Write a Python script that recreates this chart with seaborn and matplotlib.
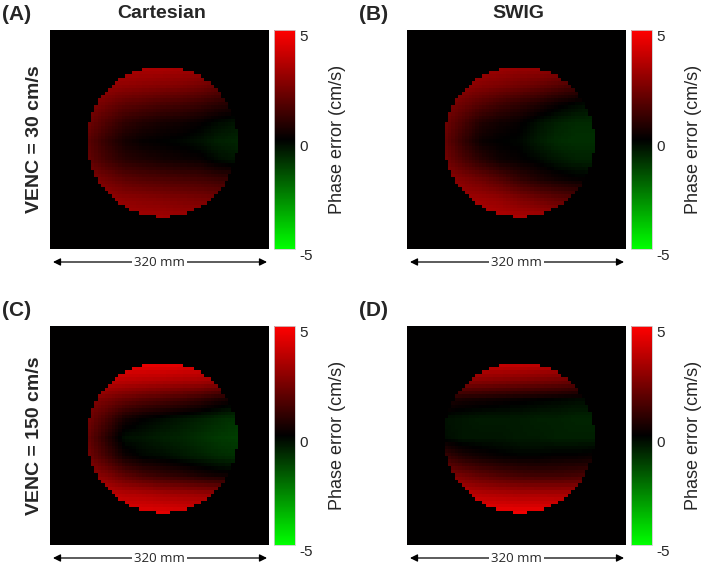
import numpy as np
import matplotlib
matplotlib.use("Agg")
import matplotlib.pyplot as plt
from matplotlib.colors import LinearSegmentedColormap
from matplotlib.transforms import ScaledTranslation
import seaborn as sns

# Phase error (cm/s) on a coarse 9x9 grid spanning the
# phantom's bounding box (rows top -> bottom, columns left -> right)
cartesian_30 = [
    [3.4, 3.4, 3.4, 3.4, 3.4, 3.3, 3.2, 3.1, 3.0],
    [3.0, 2.9, 2.8, 2.7, 2.6, 2.5, 2.3, 2.0, 1.8],
    [2.6, 2.2, 1.8, 1.6, 1.4, 1.3, 1.1, 0.8, 0.6],
    [2.2, 1.5, 0.9, 0.6, 0.4, 0.3, 0.1, -0.2, -0.4],
    [1.8, 1.0, 0.4, 0.1, 0.0, -0.1, -0.3, -0.6, -0.7],
    [2.0, 1.3, 0.8, 0.6, 0.4, 0.3, 0.2, -0.2, -0.4],
    [2.6, 2.2, 1.8, 1.6, 1.5, 1.4, 1.3, 1.1, 1.0],
    [3.0, 2.9, 2.7, 2.6, 2.5, 2.4, 2.3, 2.2, 2.0],
    [3.2, 3.2, 3.2, 3.1, 3.1, 3.0, 3.0, 2.9, 2.8],
]
swig_30 = [
    [3.2, 3.2, 3.2, 3.1, 3.0, 3.0, 2.9, 2.8, 2.6],
    [2.9, 2.8, 2.6, 2.4, 2.2, 2.0, 1.7, 1.4, 1.2],
    [2.5, 2.1, 1.6, 1.2, 0.9, 0.6, 0.2, -0.1, -0.3],
    [2.2, 1.4, 0.6, 0.3, 0.1, -0.3, -0.6, -0.8, -0.8],
    [2.0, 1.0, 0.2, 0.0, -0.1, -0.5, -0.8, -0.9, -0.9],
    [2.3, 1.5, 0.8, 0.3, 0.1, -0.1, -0.4, -0.6, -0.6],
    [2.8, 2.5, 2.1, 1.6, 1.0, 0.6, 0.3, 0.1, 0.0],
    [3.2, 3.1, 3.0, 2.8, 2.4, 2.1, 1.8, 1.6, 1.5],
    [3.5, 3.5, 3.5, 3.4, 3.3, 3.2, 3.0, 2.9, 2.8],
]
cartesian_150 = [
    [4.7, 4.7, 4.7, 4.7, 4.7, 4.6, 4.5, 4.4, 4.3],
    [3.8, 3.7, 3.6, 3.5, 3.4, 3.3, 3.2, 3.0, 2.8],
    [2.6, 2.3, 1.9, 1.6, 1.4, 1.2, 0.9, 0.5, 0.2],
    [2.3, 1.4, 0.4, 0.0, -0.2, -0.4, -0.6, -0.8, -1.0],
    [2.0, 0.8, -0.3, -0.4, -0.6, -0.7, -0.9, -1.1, -1.2],
    [2.3, 1.3, 0.3, -0.1, -0.2, -0.4, -0.6, -0.8, -0.9],
    [2.9, 2.5, 1.8, 1.3, 1.0, 0.8, 0.5, 0.3, 0.2],
    [3.8, 3.7, 3.5, 3.4, 3.2, 3.1, 3.0, 2.9, 2.8],
    [4.4, 4.4, 4.4, 4.4, 4.4, 4.3, 4.2, 4.2, 4.1],
]
swig_150 = [
    [4.0, 4.0, 4.0, 4.0, 4.0, 3.9, 3.8, 3.7, 3.6],
    [2.8, 2.7, 2.6, 2.5, 2.4, 2.3, 2.2, 2.0, 1.8],
    [0.6, 0.4, 0.3, 0.2, 0.1, 0.0, -0.1, -0.2, -0.2],
    [-0.3, -0.4, -0.5, -0.5, -0.5, -0.6, -0.6, -0.7, -0.7],
    [-0.2, -0.4, -0.4, -0.4, -0.5, -0.5, -0.6, -0.6, -0.6],
    [1.2, 0.6, 0.3, 0.1, 0.0, 0.0, 0.1, 0.1, 0.2],
    [2.6, 2.2, 1.8, 1.5, 1.3, 1.2, 1.2, 1.3, 1.4],
    [3.8, 3.7, 3.5, 3.4, 3.3, 3.3, 3.3, 3.3, 3.3],
    [4.7, 4.7, 4.7, 4.7, 4.7, 4.7, 4.6, 4.6, 4.5],
]

panel_labels = ["(A)", "(B)", "(C)", "(D)"]
column_titles = ["Cartesian", "SWIG"]
row_titles = ["VENC = 30 cm/s", "VENC = 150 cm/s"]
cbar_ticks = [5, 0, -5]

# phantom geometry on the 64x64 acquisition matrix
matrix_size = 64
phantom_center = (32.8, 32.6)   # (x, y) in pixels
phantom_radius = 22.0


def phase_map(coarse):
    """Put the coarse readings onto the matrix and blank outside the phantom."""
    coarse = np.asarray(coarse, dtype=float)
    n = coarse.shape[0] - 1
    cx, cy = phantom_center
    pix = np.arange(matrix_size) + 0.5
    tx = np.clip((pix - (cx - phantom_radius)) / (2 * phantom_radius) * n, 0, n)
    ty = np.clip((pix - (cy - phantom_radius)) / (2 * phantom_radius) * n, 0, n)
    grid = np.arange(n + 1)
    by_col = np.array([np.interp(tx, grid, row) for row in coarse])
    field = np.array([np.interp(ty, grid, by_col[:, j]) for j in range(matrix_size)]).T
    xx, yy = np.meshgrid(pix, pix)
    inside = (xx - cx) ** 2 + (yy - cy) ** 2 <= phantom_radius ** 2
    return np.where(inside, field, 0.0)


sns.set_style("white")
plt.rcParams["font.family"] = ["Liberation Sans", "DejaVu Sans"]

cmap = LinearSegmentedColormap.from_list("green_black_red", ["#00ff00", "#000000", "#ff0000"])

fig = plt.figure(figsize=(7.09, 5.64), dpi=100)
W, H = 709, 564

maps = [cartesian_30, swig_30, cartesian_150, swig_150]
img_left = [50, 407]
img_top = [30, 326]
size = 219

for k, data in enumerate(maps):
    r, c = divmod(k, 2)
    x0, y0 = img_left[c], img_top[r]
    ax = fig.add_axes([x0 / W, 1 - (y0 + size) / H, size / W, size / H])
    cax = fig.add_axes([(x0 + 224) / W, 1 - (y0 + size) / H, 21 / W, size / H])

    sns.heatmap(phase_map(data), ax=ax, cbar_ax=cax, cmap=cmap, vmin=-5, vmax=5,
                xticklabels=False, yticklabels=False, rasterized=True)
    ax.set_aspect("auto")
    for sp in ax.spines.values():
        sp.set_visible(False)

    cb = ax.collections[0].colorbar
    cb.set_ticks(cbar_ticks)
    cb.set_ticklabels([str(t) for t in cbar_ticks])
    cb.outline.set_visible(True)
    cb.outline.set_edgecolor("#cccccc")
    cb.outline.set_linewidth(0.6)
    cax.tick_params(length=0, pad=3, labelsize=11)
    for lab in cax.get_yticklabels():
        lab.set_transform(lab.get_transform() + ScaledTranslation(0, -4 / 72, fig.dpi_scale_trans))
    cax.text(3.0, 0.5, "Phase error (cm/s)", transform=cax.transAxes, rotation=90,
             ha="center", va="center", fontsize=13)

    # panel letter
    fig.text((x0 - 48) / W, 1 - (y0 - 16) / H, panel_labels[k], fontsize=15,
             fontweight="bold", ha="left", va="center")

    # field-of-view arrow
    ya = 1 - (y0 + size + 13) / H
    ax.annotate("", xy=((x0 + 3) / W, ya), xytext=((x0 + 217) / W, ya),
                xycoords="figure fraction", textcoords="figure fraction",
                arrowprops=dict(arrowstyle="<|-|>", color="black", lw=0.9,
                                mutation_scale=11, shrinkA=0, shrinkB=0))
    fig.text((x0 + size / 2) / W, ya, "320 mm", fontsize=9.5, family=["Open Sans", "DejaVu Sans"],
             ha="center", va="center",
             bbox=dict(facecolor="white", edgecolor="none", pad=1.5))

    if r == 0:
        fig.text((x0 + size / 2 + 2) / W, 1 - 13 / H, column_titles[c], fontsize=14,
                 fontweight="bold", ha="center", va="center")
    if c == 0:
        fig.text(35 / W, 1 - (y0 + size / 2) / H, row_titles[r], fontsize=14,
                 fontweight="bold", rotation=90, ha="center", va="center")

fig.savefig("out.png", dpi=100)
